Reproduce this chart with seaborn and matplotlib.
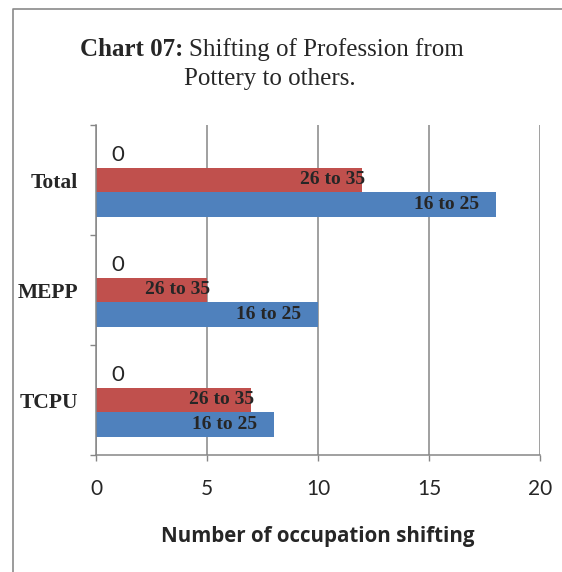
import matplotlib
matplotlib.use("Agg")
import matplotlib.pyplot as plt
import seaborn as sns
import pandas as pd
from matplotlib.lines import Line2D
from matplotlib.ticker import FixedLocator

# ---- data ----
categories = ["Total", "MEPP", "TCPU"]
series_names = ["Series3", "26 to 35", "16 to 25"]
values_zero = [0, 0, 0]
values_26_35 = [12, 5, 7]
values_16_25 = [18, 10, 8]
x_ticks = [0, 5, 10, 15, 20]

rows = []
for s, vals in zip(series_names, [values_zero, values_26_35, values_16_25]):
    for c, v in zip(categories, vals):
        rows.append({"cat": c, "series": s, "value": v})
df = pd.DataFrame(rows)

colors = {"Series3": "#9BBB59", "26 to 35": "#C0504D", "16 to 25": "#4F81BD"}

sns.set_theme(style="white")
plt.rcParams["font.family"] = ["Liberation Serif", "DejaVu Sans"]

fig = plt.figure(figsize=(5.62, 5.72), dpi=100)
ax = fig.add_axes([96 / 562, 1 - 455 / 572, (540 - 96) / 562, (455 - 125) / 572])

sns.barplot(data=df, y="cat", x="value", hue="series", order=categories,
            hue_order=series_names, palette=colors, orient="h", width=0.67,
            dodge=True, ax=ax, legend=False, saturation=1, linewidth=0)

ax.set_xlim(0, 20)
ax.set_ylim(2.5, -0.5)
ax.set_xticks(x_ticks)
ax.set_xticklabels([str(t) for t in x_ticks], fontfamily="Lato", fontsize=15)
ax.set_yticks(range(len(categories)))
ax.set_yticklabels(categories, fontfamily="Liberation Serif", fontweight="bold", fontsize=15.5)
ax.yaxis.set_minor_locator(FixedLocator([-0.5, 0.5, 1.5, 2.5]))
ax.tick_params(axis="y", which="major", length=0, pad=13)
ax.tick_params(axis="y", which="minor", length=4, width=1, color="#868686", left=True)
ax.tick_params(axis="x", which="major", length=4, width=1, color="#868686", bottom=True, pad=13)

ax.grid(axis="x", color="#868686", linewidth=1.1)
ax.set_axisbelow(True)
for side in ["top", "right"]:
    ax.spines[side].set_visible(False)
for side in ["left", "bottom"]:
    ax.spines[side].set_color("#868686")
    ax.spines[side].set_linewidth(1.1)

ax.set_ylabel("")
ax.set_xlabel("Number of occupation shifting", fontfamily="Open Sans", fontweight="bold",
              fontsize=14.8, labelpad=20)

# data labels
offsets = {"Series3": 16, "26 to 35": 2, "16 to 25": -12}
for cont, s in zip(ax.containers, series_names):
    for p in cont.patches:
        xend = p.get_width()
        yc = p.get_y() + p.get_height() / 2
        if s == "Series3":
            ax.annotate("0", (xend, yc), xytext=(offsets[s], 0), textcoords="offset points",
                        ha="center", va="center", fontfamily="Lato", fontsize=16)
        else:
            ax.annotate(s, (xend, yc), xytext=(offsets[s], 0), textcoords="offset points",
                        ha="right", va="center", fontfamily="Liberation Serif",
                        fontweight="bold", fontsize=14)

# title
ty1 = 1 - 50 / 572
fig.text(183 / 562, ty1, "Chart 07:", ha="right", va="center", fontsize=18,
         fontweight="bold", fontfamily="Liberation Serif")
fig.text(189 / 562, ty1, "Shifting of Profession from", ha="left", va="center",
         fontsize=18, fontfamily="Liberation Serif")
fig.text(270 / 562, 1 - 79 / 572, "Pottery to others.", ha="center", va="center",
         fontsize=18, fontfamily="Liberation Serif")

# outer frame
bx, by = 13 / 562, 1 - 9 / 572
fig.add_artist(Line2D([bx, bx, 1.0], [0, by, by], transform=fig.transFigure,
                      color="#8a8a8a", linewidth=1.2))

fig.savefig("out.png", dpi=100)
